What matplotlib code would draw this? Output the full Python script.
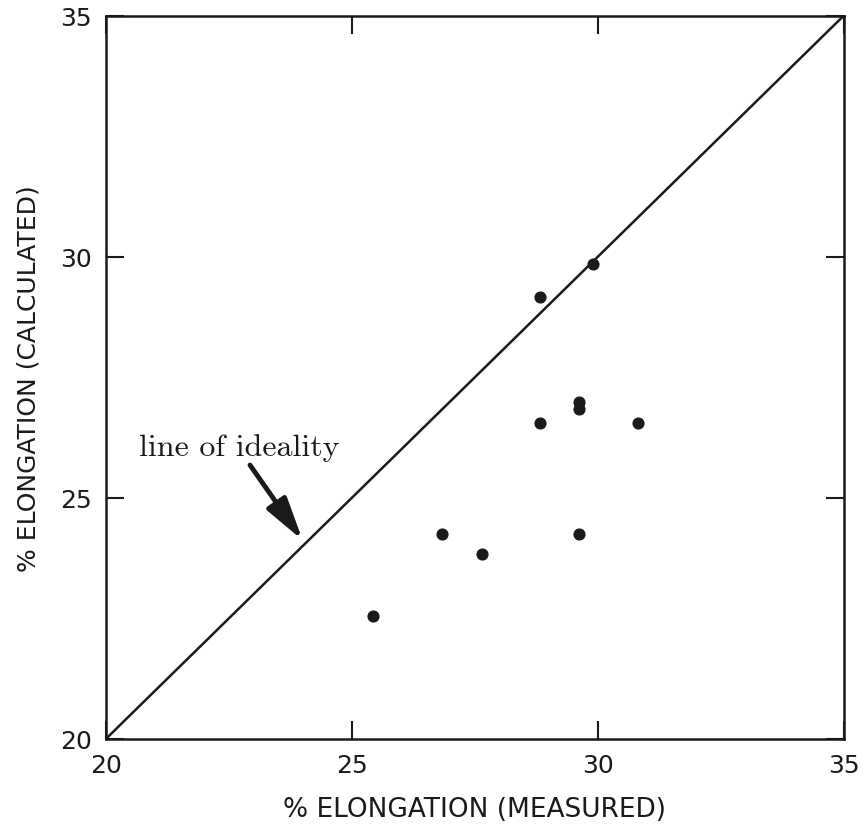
import numpy as np
import matplotlib.pyplot as plt

# % elongation, measured vs calculated
measured = [25.43, 26.84, 27.64, 28.82, 28.82, 29.62, 29.62, 29.62, 29.9, 30.81]
calculated = [22.55, 24.24, 23.84, 29.16, 26.56, 26.99, 26.85, 24.24, 29.85, 26.56]

ticks = [20, 25, 30, 35]

fig = plt.figure(figsize=(8.68, 8.37), dpi=100)
ax = fig.add_axes([0.122, 0.116, 0.850, 0.864])

ax.plot([20, 35], [20, 35], color='#1a1a1a', lw=1.8)
ax.scatter(measured, calculated, s=60, color='#1a1a1a', zorder=3)

ax.text(22.72, 26.05, 'line of ideality', ha='center', va='center',
        fontsize=23, family='cmr10', color='#1a1a1a')
ax.annotate('', xy=(24.0, 24.12), xytext=(22.93, 25.68),
            arrowprops=dict(arrowstyle='-|>,head_length=1.3,head_width=0.35',
                            mutation_scale=20, color='#1a1a1a', lw=3.5,
                            shrinkA=0, shrinkB=0))

ax.set_xlim(20, 35)
ax.set_ylim(20, 35)
ax.set_xticks(ticks)
ax.set_yticks(ticks)
ax.tick_params(direction='in', length=13, width=1.5, top=True, right=True,
               labelsize=18, pad=10, colors='#1a1a1a')
for s in ax.spines.values():
    s.set_linewidth(1.8)
    s.set_color('#1a1a1a')

ax.set_xlabel('% ELONGATION (MEASURED)', fontsize=19, labelpad=14, color='#1a1a1a')
ax.set_ylabel('% ELONGATION (CALCULATED)', fontsize=18, labelpad=14, color='#1a1a1a')

fig.savefig('out.png', dpi=100)
